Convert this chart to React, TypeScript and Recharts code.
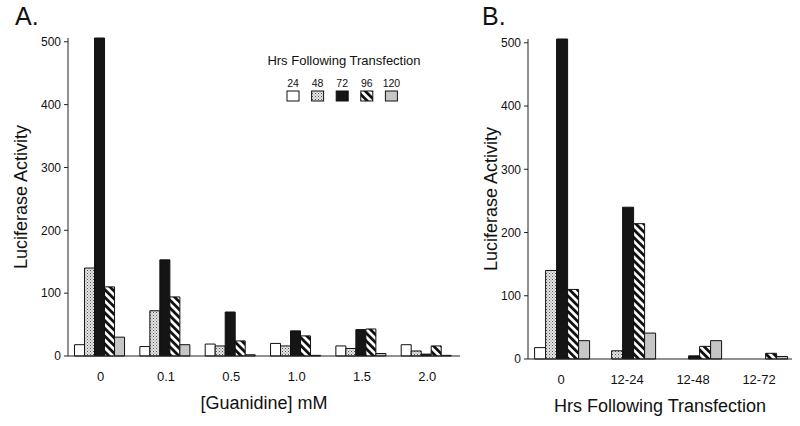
import React from "react";
import { BarChart, Bar, XAxis, YAxis, Label } from "recharts";

const seriesKeys = ["h24", "h48", "h72", "h96", "h120"];
const seriesNames = ["24", "48", "72", "96", "120"];

// panel A: guanidine concentrations
const guanidineLabels = ["0", "0.1", "0.5", "1.0", "1.5", "2.0"];
const aH24 = [18, 15, 19, 20, 16, 18];
const aH48 = [140, 72, 16, 16, 12, 8];
const aH72 = [506, 153, 70, 40, 42, 3];
const aH96 = [110, 94, 24, 32, 43, 16];
const aH120 = [30, 18, 2, 1, 4, 1];

// panel B: hours following transfection
const hoursLabels = ["0", "12-24", "12-48", "12-72"];
const bH24 = [18, 0, 0, 0];
const bH48 = [140, 13, 0, 0];
const bH72 = [506, 240, 5, 0];
const bH96 = [110, 214, 20, 9];
const bH120 = [29, 41, 29, 4];

const yTicks = [0, 100, 200, 300, 400, 500];

const fills = ["#ffffff", "url(#stipple)", "#151515", "url(#hatch)", "#c6c6c6"];

const buildRows = (labels: string[], cols: number[][]) =>
  labels.map((name, i) => {
    const row: any = { name };
    seriesKeys.forEach((k, j) => {
      row[k] = cols[j][i];
    });
    return row;
  });

const dataA = buildRows(guanidineLabels, [aH24, aH48, aH72, aH96, aH120]);
const dataB = buildRows(hoursLabels, [bH24, bH48, bH72, bH96, bH120]);

const font = "'Liberation Sans', Arial, sans-serif";

const Patterns = () => (
  <svg width={0} height={0} style={{ position: "absolute" }}>
    <defs>
      <pattern id="stipple" width={3} height={3} patternUnits="userSpaceOnUse">
        <rect width={3} height={3} fill="#e4e4e4" />
        <rect x={0} y={0} width={1} height={1} fill="#555" />
        <rect x={1.5} y={1.5} width={1} height={1} fill="#888" />
      </pattern>
      <pattern
        id="hatch"
        width={5.5}
        height={5.5}
        patternUnits="userSpaceOnUse"
        patternTransform="rotate(-45)"
      >
        <rect width={5.5} height={5.5} fill="#fff" />
        <rect width={2.8} height={5.5} fill="#111" />
      </pattern>
    </defs>
  </svg>
);

const Legend = () => (
  <svg
    width={800}
    height={426}
    style={{ position: "absolute", left: 0, top: 0, pointerEvents: "none" }}
  >
    <text x={15} y={25} fontSize={25} fontFamily={font} fill="#111">A.</text>
    <text x={482} y={25} fontSize={25} fontFamily={font} fill="#111">B.</text>
    <text x={344} y={65} fontSize={13} fontFamily={font} textAnchor="middle" fill="#111">
      Hrs Following Transfection
    </text>
    {seriesNames.map((n, i) => (
      <g key={n}>
        <text x={293 + i * 24.6} y={87} fontSize={10.5} fontFamily={font} textAnchor="middle" fill="#111">
          {n}
        </text>
        <rect x={287 + i * 24.6} y={91} width={12} height={10} fill={fills[i]} stroke="#111" strokeWidth={1} />
      </g>
    ))}
  </svg>
);

const renderBars = () =>
  seriesKeys.map((k, i) => (
    <Bar
      key={k}
      dataKey={k}
      fill={fills[i]}
      stroke="#111"
      strokeWidth={1}
      isAnimationActive={false}
    />
  ));

export default function App() {
  return (
    <div
      style={{
        position: "fixed",
        left: 0,
        top: 0,
        width: 800,
        height: 426,
        background: "#fff",
        fontFamily: font,
      }}
    >
      <Patterns />
      <div style={{ position: "absolute", left: 0, top: 0 }}>
        <BarChart
          width={470}
          height={426}
          data={dataA}
          margin={{ top: 38, right: 10, bottom: 10, left: 0 }}
          barCategoryGap="10%"
          barGap={0}
        >
          <XAxis
            dataKey="name"
            height={60}
            tickLine={false}
            tickMargin={10}
            stroke="#222"
            tick={{ fill: "#111", fontSize: 13, fontFamily: font }}
          >
            <Label
              value="[Guanidine] mM"
              position="insideBottom"
              offset={7}
              style={{ fontSize: 18, fontFamily: font, fill: "#111" }}
            />
          </XAxis>
          <YAxis
            width={68}
            domain={[0, 506]}
            ticks={yTicks}
            tickSize={4}
            tickMargin={3}
            stroke="#222"
            tick={{ fill: "#111", fontSize: 12, fontFamily: font }}
          >
            <Label
              value="Luciferase Activity"
              angle={-90}
              position="insideLeft"
              offset={21}
              style={{ fontSize: 18, fontFamily: font, fill: "#111", textAnchor: "middle" }}
            />
          </YAxis>
          {renderBars()}
        </BarChart>
      </div>
      <div style={{ position: "absolute", left: 480, top: 0 }}>
        <BarChart
          width={320}
          height={426}
          data={dataB}
          margin={{ top: 39, right: 8, bottom: 10, left: 0 }}
          barCategoryGap="10%"
          barGap={0}
        >
          <XAxis
            dataKey="name"
            height={57}
            tickLine={false}
            tickMargin={10}
            stroke="#222"
            tick={{ fill: "#111", fontSize: 13, fontFamily: font }}
          >
            <Label
              value="Hrs Following Transfection"
              position="insideBottom"
              offset={4}
              style={{ fontSize: 18, fontFamily: font, fill: "#111" }}
            />
          </XAxis>
          <YAxis
            width={48}
            domain={[0, 506]}
            ticks={yTicks}
            tickSize={4}
            tickMargin={3}
            stroke="#222"
            tick={{ fill: "#111", fontSize: 12, fontFamily: font }}
          >
            <Label
              value="Luciferase Activity"
              angle={-90}
              position="insideLeft"
              offset={11}
              style={{ fontSize: 18, fontFamily: font, fill: "#111", textAnchor: "middle" }}
            />
          </YAxis>
          {renderBars()}
        </BarChart>
      </div>
      <Legend />
    </div>
  );
}
